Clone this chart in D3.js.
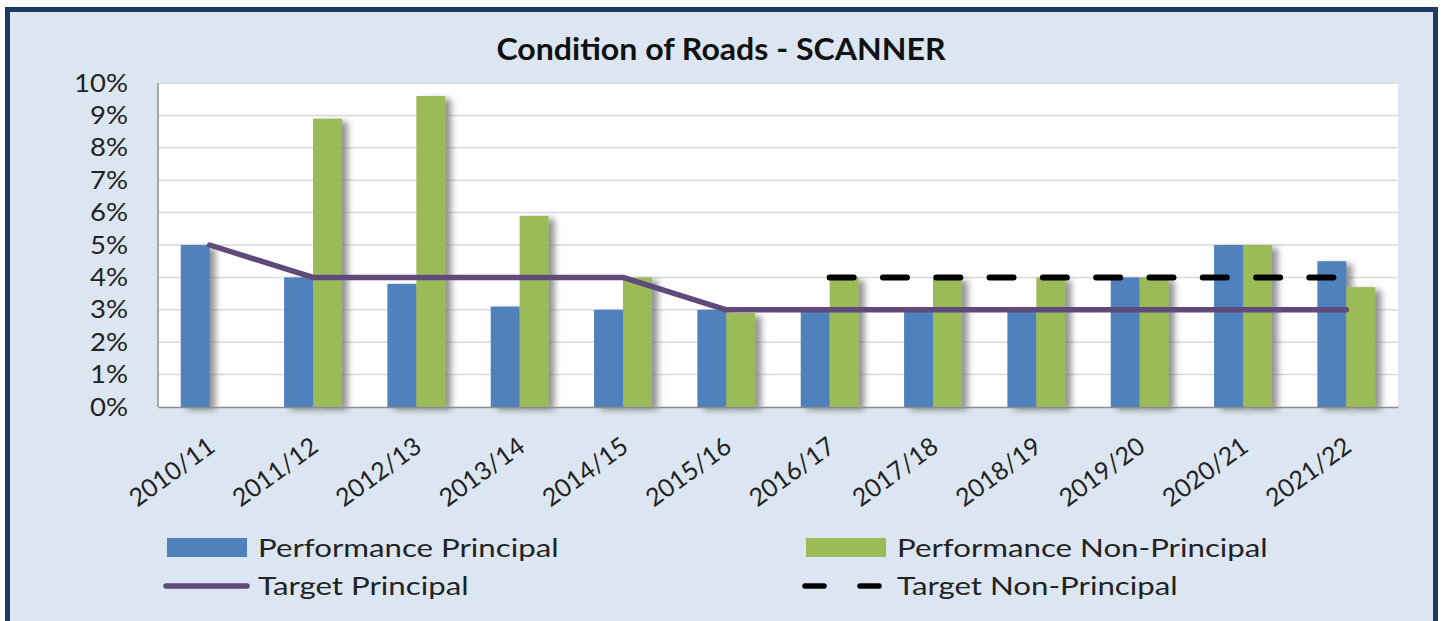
<!DOCTYPE html>
<html>
<head>
<meta charset="utf-8">
<script src="https://cdn.jsdelivr.net/npm/d3@7"></script>
<style>
  body { margin: 0; background: #ffffff; }
  svg { display: block; font-family: Lato, "Liberation Sans", sans-serif; }
</style>
</head>
<body>
<div id="wrapper"></div>
<script>
// chart data
const categories = ["2010/11", "2011/12", "2012/13", "2013/14", "2014/15", "2015/16",
    "2016/17", "2017/18", "2018/19", "2019/20", "2020/21", "2021/22"];
const perfPrincipal = [0.050, 0.040, 0.038, 0.031, 0.030, 0.030, 0.030, 0.030, 0.030, 0.040, 0.050, 0.045];
const perfNonPrincipal = [null, 0.089, 0.096, 0.059, 0.040, 0.029, 0.040, 0.040, 0.040, 0.040, 0.050, 0.037];
const targetPrincipal = [0.05, 0.04, 0.04, 0.04, 0.04, 0.03, 0.03, 0.03, 0.03, 0.03, 0.03, 0.03];
const targetNonPrincipal = [null, null, null, null, null, null, 0.04, 0.04, 0.04, 0.04, 0.04, 0.04];
const yTicks = [0, 0.01, 0.02, 0.03, 0.04, 0.05, 0.06, 0.07, 0.08, 0.09, 0.10];

const chartTitle = "Condition of Roads - SCANNER";
const seriesNames = ["Performance Principal", "Performance Non-Principal", "Target Principal", "Target Non-Principal"];

let wSvg = 1442;
let hSvg = 621;

let plotLeft = 158;
let plotRight = 1398;
let plotTop = 83;
let plotBottom = 407;

const blue = "#4f81bd";
const green = "#9bbb59";
const purple = "#604a7b";

// the original picture is a bit stretched sideways, so text gets widened too
let stretch = 1.25;

let svg = d3.select("#wrapper")
    .append("svg")
    .attr("width", wSvg)
    .attr("height", hSvg);

// drop shadow for the bars
let defs = svg.append("defs");
let shadow = defs.append("filter")
    .attr("id", "barShadow")
    .attr("x", "-20%").attr("y", "-10%")
    .attr("width", "170%").attr("height", "130%");
shadow.append("feGaussianBlur").attr("in", "SourceAlpha").attr("stdDeviation", 3).attr("result", "blur");
shadow.append("feOffset").attr("in", "blur").attr("dx", 6).attr("dy", 3).attr("result", "off");
shadow.append("feFlood").attr("flood-color", "#666666").attr("flood-opacity", 0.7);
shadow.append("feComposite").attr("in2", "off").attr("operator", "in").attr("result", "sh");
let merge = shadow.append("feMerge");
merge.append("feMergeNode").attr("in", "sh");
merge.append("feMergeNode").attr("in", "SourceGraphic");

// panel with navy frame
svg.append("rect")
    .attr("x", 7.5)
    .attr("y", 9.5)
    .attr("width", 1428)
    .attr("height", 640)
    .attr("fill", "#dce6f2")
    .attr("stroke", "#1f3a60")
    .attr("stroke-width", 5);

svg.append("g")
    .attr("transform", "translate(721,60) scale(1.07,1)")
    .append("text")
    .attr("text-anchor", "middle")
    .attr("font-size", 30)
    .attr("font-weight", "bold")
    .attr("fill", "#111")
    .text(chartTitle);

// scales
let xScale = d3.scaleBand()
    .domain(categories)
    .range([plotLeft, plotRight])
    .paddingInner(0.44)
    .paddingOuter(0.22);

let xSub = d3.scaleBand()
    .domain(["p", "n"])
    .range([0, xScale.bandwidth()]);

let yScale = d3.scaleLinear()
    .domain([0, 0.10])
    .range([plotBottom, plotTop]);

let center = d => xScale(d) + xScale.bandwidth() / 2;

// plot area
svg.append("rect")
    .attr("x", plotLeft)
    .attr("y", plotTop)
    .attr("width", plotRight - plotLeft)
    .attr("height", plotBottom - plotTop)
    .attr("fill", "#ffffff");

// gridlines
svg.append("g")
    .selectAll("line")
    .data(yTicks.slice(1))
    .enter()
    .append("line")
    .attr("x1", plotLeft)
    .attr("x2", plotRight)
    .attr("y1", d => yScale(d))
    .attr("y2", d => yScale(d))
    .attr("stroke", "#d9d9d9")
    .attr("stroke-width", 1.5);

// y axis labels
let yAxis = svg.append("g")
    .attr("transform", `translate(${plotLeft},0)`)
    .call(d3.axisLeft(yScale).tickValues(yTicks).tickFormat(d3.format(".0%")).tickSize(0).tickPadding(30));
yAxis.select(".domain").remove();
yAxis.selectAll("text")
    .attr("font-family", "Lato, sans-serif")
    .attr("font-size", 25)
    .attr("fill", "#222")
    .attr("x", -30 / 1.1)
    .attr("transform", "scale(1.1,1)");

// bars
let groups = svg.append("g")
    .selectAll("g")
    .data(categories)
    .enter()
    .append("g")
    .attr("transform", d => `translate(${xScale(d)},0)`);

groups.append("rect")
    .attr("x", xSub("p"))
    .attr("width", xSub.bandwidth())
    .attr("y", (d, i) => yScale(perfPrincipal[i]))
    .attr("height", (d, i) => plotBottom - yScale(perfPrincipal[i]))
    .attr("fill", blue)
    .attr("filter", "url(#barShadow)");

groups.filter((d, i) => perfNonPrincipal[i] !== null)
    .append("rect")
    .attr("x", xSub("n"))
    .attr("width", xSub.bandwidth())
    .attr("y", d => yScale(perfNonPrincipal[categories.indexOf(d)]))
    .attr("height", d => plotBottom - yScale(perfNonPrincipal[categories.indexOf(d)]))
    .attr("fill", green)
    .attr("filter", "url(#barShadow)");

// axis lines
let xAxis = svg.append("g")
    .attr("transform", `translate(0,${plotBottom})`)
    .call(d3.axisBottom(xScale).tickSize(0).tickPadding(0));
xAxis.select(".domain")
    .attr("stroke", "#8c8c8c")
    .attr("stroke-width", 1.5);
xAxis.selectAll("text")
    .attr("font-family", "Lato, sans-serif")
    .attr("font-size", 25)
    .attr("fill", "#222")
    .attr("text-anchor", "end")
    .attr("y", 0)
    .attr("dy", 0)
    .attr("transform", "translate(7,43) rotate(-36)");

svg.append("line")
    .attr("x1", plotLeft)
    .attr("x2", plotLeft)
    .attr("y1", plotTop)
    .attr("y2", plotBottom)
    .attr("stroke", "#8c8c8c")
    .attr("stroke-width", 1.5);

// target lines
let line = d3.line()
    .defined(d => d[1] !== null)
    .x(d => center(d[0]))
    .y(d => yScale(d[1]));

svg.append("path")
    .datum(categories.map((c, i) => [c, targetPrincipal[i]]))
    .attr("d", line)
    .attr("fill", "none")
    .attr("stroke", purple)
    .attr("stroke-width", 5.5)
    .attr("stroke-linejoin", "round")
    .attr("stroke-linecap", "round");

svg.append("path")
    .datum(categories.map((c, i) => [c, targetNonPrincipal[i]]))
    .attr("d", line)
    .attr("fill", "none")
    .attr("stroke", "#000")
    .attr("stroke-width", 6)
    .attr("stroke-linecap", "round")
    .attr("stroke-dasharray", "24,29.3");

// legend
let legend = svg.append("g");
let legendItems = [
    { name: seriesNames[0], type: "bar", color: blue, x: 167, y: 548 },
    { name: seriesNames[1], type: "bar", color: green, x: 806, y: 548 },
    { name: seriesNames[2], type: "line", color: purple, x: 167, y: 586 },
    { name: seriesNames[3], type: "dash", color: "#000", x: 806, y: 586 }
];

legendItems.forEach(item => {
    if (item.type === "bar") {
        legend.append("rect")
            .attr("x", item.x)
            .attr("y", item.y - 10)
            .attr("width", 80)
            .attr("height", 19)
            .attr("fill", item.color);
    } else {
        legend.append("line")
            .attr("x1", item.x - 1)
            .attr("x2", item.x + 80)
            .attr("y1", item.y)
            .attr("y2", item.y)
            .attr("stroke", item.color)
            .attr("stroke-width", 5.5)
            .attr("stroke-linecap", "round")
            .attr("stroke-dasharray", item.type === "dash" ? "19,36" : null);
    }
    legend.append("g")
        .attr("transform", `translate(${item.x + 91},${item.y}) scale(${stretch},1)`)
        .append("text")
        .attr("dy", "0.36em")
        .attr("font-size", 25)
        .attr("fill", "#222")
        .text(item.name);
});
</script>
</body>
</html>
